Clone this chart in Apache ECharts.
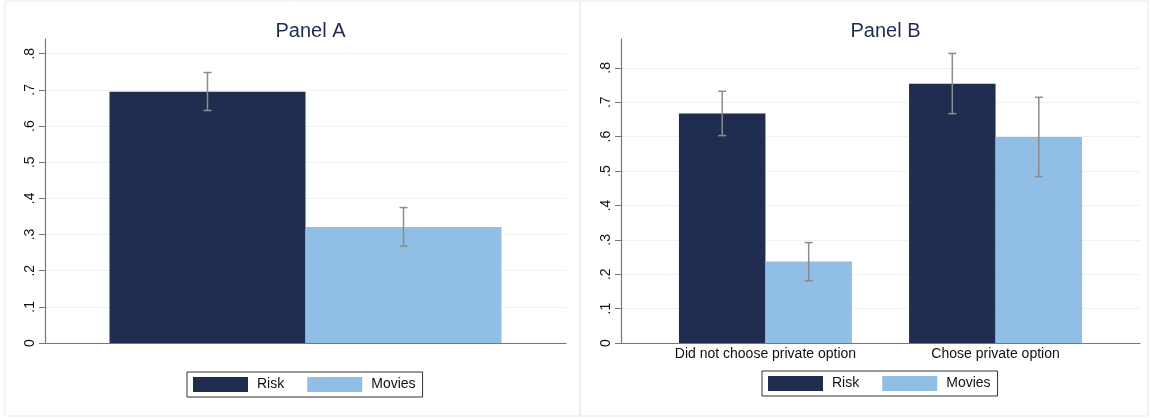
<!DOCTYPE html>
<html>
<head>
<meta charset="utf-8">
<script src="https://cdn.jsdelivr.net/npm/echarts@6/dist/echarts.min.js"></script>
<style>
html,body{margin:0;padding:0;background:#fff;}
#c{width:1151px;height:418px;}
</style>
</head>
<body>
<div id="c"></div>
<script>
// ---- data ----
const seriesNames = ['Risk', 'Movies'];
const panelTitles = ['Panel A', 'Panel B'];
const yTicks = [0, 0.1, 0.2, 0.3, 0.4, 0.5, 0.6, 0.7, 0.8];
// Panel A (single group)
const riskA = [0.695];
const riskALow = [0.643];
const riskAHigh = [0.748];
const moviesA = [0.321];
const moviesALow = [0.268];
const moviesAHigh = [0.3745];
// Panel B
const categoriesB = ['Did not choose private option', 'Chose private option'];
const riskB = [0.667, 0.754];
const riskBLow = [0.603, 0.667];
const riskBHigh = [0.732, 0.842];
const moviesB = [0.237, 0.599];
const moviesBLow = [0.181, 0.484];
const moviesBHigh = [0.292, 0.7145];

// ---- styles ----
const FONT = 'Liberation Sans, Arial, Helvetica, sans-serif';
const NAVY = '#212d50';
const LIGHT = '#90bee4';
const AXIS = '#777777';
const GRIDC = '#edf2f3';
const ERR = '#8c8c8c';

function yLabel(v) {
  if (Math.abs(v) < 1e-9) return '0';
  return v.toFixed(1).replace(/^0\./, '.');
}

function errRender(offset) {
  return function (params, api) {
    const x = api.value(0);
    const lo = api.coord([x, api.value(1)]);
    const hi = api.coord([x, api.value(2)]);
    const cx = lo[0] + offset;
    const cap = 4;
    const st = { stroke: ERR, lineWidth: 1.5 };
    return {
      type: 'group',
      children: [
        { type: 'line', shape: { x1: cx, y1: lo[1], x2: cx, y2: hi[1] }, style: st },
        { type: 'line', shape: { x1: cx - cap, y1: hi[1], x2: cx + cap, y2: hi[1] }, style: st },
        { type: 'line', shape: { x1: cx - cap, y1: lo[1], x2: cx + cap, y2: lo[1] }, style: st }
      ]
    };
  };
}

function yAxisDef(gridIndex, max) {
  return {
    type: 'value', gridIndex: gridIndex, min: 0, max: max,
    axisLine: { show: true, onZero: false, lineStyle: { color: AXIS, width: 1.2 } },
    axisTick: { show: true, length: 6, customValues: yTicks, lineStyle: { color: AXIS, width: 1 } },
    axisLabel: { customValues: yTicks, formatter: yLabel, rotate: 90, margin: 8,
      color: '#111', fontFamily: FONT, fontSize: 14 },
    splitLine: { show: true, lineStyle: { color: GRIDC, width: 1.2 } }
  };
}

function legendDef(left, top) {
  return {
    left: left, top: top, orient: 'horizontal',
    data: seriesNames,
    icon: 'rect', itemWidth: 55, itemHeight: 15, itemGap: 23,
    padding: [5, 7, 5, 6],
    borderColor: '#333', borderWidth: 1,
    selectedMode: false,
    textStyle: { color: '#111', fontFamily: FONT, fontSize: 14, padding: [0, 0, 0, 4] }
  };
}

const barWA = 196, barWB = 86.5;

const chart = echarts.init(document.getElementById('c'), null, { renderer: 'canvas' });
chart.setOption({
  backgroundColor: '#ffffff',
  animation: false,
  graphic: [
    { type: 'rect', shape: { x: 5, y: 1, width: 575, height: 415 }, style: { fill: 'none', stroke: '#e4ebee', lineWidth: 1 }, z: -10 },
    { type: 'rect', shape: { x: 580, y: 1, width: 568, height: 415 }, style: { fill: 'none', stroke: '#e4ebee', lineWidth: 1 }, z: -10 }
  ],
  title: [
    { text: panelTitles[0], left: 305.5, top: 16, textAlign: 'center',
      textStyle: { color: '#1f2b50', fontFamily: FONT, fontSize: 20, fontWeight: 'normal' } },
    { text: panelTitles[1], left: 880.5, top: 16, textAlign: 'center',
      textStyle: { color: '#1f2b50', fontFamily: FONT, fontSize: 20, fontWeight: 'normal' } }
  ],
  legend: [legendDef(187, 372), legendDef(762, 371)],
  grid: [
    { left: 45, top: 39, width: 521, height: 304 },
    { left: 621, top: 39, width: 519, height: 304 }
  ],
  xAxis: [
    { type: 'category', gridIndex: 0, data: [''], boundaryGap: true,
      axisLine: { show: true, onZero: false, lineStyle: { color: AXIS, width: 1.2 } },
      axisTick: { show: false }, axisLabel: { show: false }, splitLine: { show: false } },
    { type: 'value', gridIndex: 1, min: -0.6277, max: 1.6277,
      axisLine: { show: true, onZero: false, lineStyle: { color: AXIS, width: 1.2 } },
      axisTick: { show: false }, splitLine: { show: false },
      axisLabel: { customValues: [0, 1], formatter: function (v) { return categoriesB[Math.round(v)]; },
        margin: 4, color: '#111', fontFamily: FONT, fontSize: 14 } }
  ],
  yAxis: [yAxisDef(0, 0.8407), yAxisDef(1, 0.884)],
  series: [
    { name: seriesNames[0], type: 'bar', xAxisIndex: 0, yAxisIndex: 0, data: riskA,
      barWidth: barWA, barGap: '0%', itemStyle: { color: NAVY } },
    { name: seriesNames[1], type: 'bar', xAxisIndex: 0, yAxisIndex: 0, data: moviesA,
      barWidth: barWA, barGap: '0%', itemStyle: { color: LIGHT } },
    { name: seriesNames[0], type: 'bar', xAxisIndex: 1, yAxisIndex: 1,
      data: riskB.map(function (v, i) { return [i, v]; }),
      barWidth: barWB, barGap: '0%', itemStyle: { color: NAVY } },
    { name: seriesNames[1], type: 'bar', xAxisIndex: 1, yAxisIndex: 1,
      data: moviesB.map(function (v, i) { return [i, v]; }),
      barWidth: barWB, barGap: '0%', itemStyle: { color: LIGHT } },
    { type: 'custom', xAxisIndex: 0, yAxisIndex: 0, renderItem: errRender(-barWA / 2), z: 5,
      data: riskA.map(function (v, i) { return [i, riskALow[i], riskAHigh[i]]; }) },
    { type: 'custom', xAxisIndex: 0, yAxisIndex: 0, renderItem: errRender(barWA / 2), z: 5,
      data: moviesA.map(function (v, i) { return [i, moviesALow[i], moviesAHigh[i]]; }) },
    { type: 'custom', xAxisIndex: 1, yAxisIndex: 1, renderItem: errRender(-barWB / 2), z: 5,
      data: riskB.map(function (v, i) { return [i, riskBLow[i], riskBHigh[i]]; }) },
    { type: 'custom', xAxisIndex: 1, yAxisIndex: 1, renderItem: errRender(barWB / 2), z: 5,
      data: moviesB.map(function (v, i) { return [i, moviesBLow[i], moviesBHigh[i]]; }) }
  ]
});
</script>
</body>
</html>
